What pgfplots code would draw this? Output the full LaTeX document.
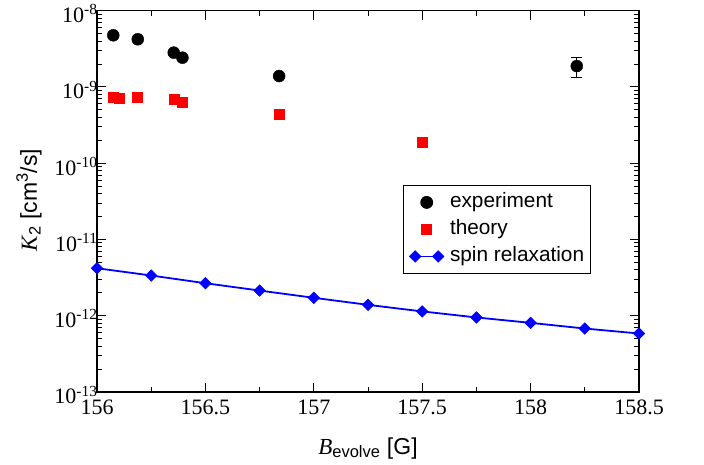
\documentclass[border=0pt]{standalone}
\usepackage{pgfplots}
\pgfplotsset{compat=1.18}
\usepackage{fontspec}
\setmainfont{Liberation Sans}
\newfontfamily\serif{Liberation Serif}

\newcommand{\tickfont}{\fontsize{22}{26}\selectfont}
\newcommand{\legfont}{\fontsize{20.8}{25}\selectfont}
\newcommand{\labfont}{\fontsize{23}{27}\selectfont}
\newcommand{\subfont}{\fontsize{16.5}{19}\selectfont}

% legend pictures: a single centred mark, or a short line with marks at both ends
\pgfplotsset{
  markleg/.style={legend image code/.code={\draw[##1] plot coordinates {(11.5pt,0pt)};}},
  lineleg/.style={legend image code/.code={\draw[##1] plot coordinates {(0pt,0pt) (23pt,0pt)};}},
}

\begin{document}
\begin{tikzpicture}[x=1pt,y=1pt]
\path[use as bounding box] (0,0) rectangle (704,464);
\begin{axis}[
  at={(97pt,72pt)}, anchor=south west,
  scale only axis, width=542pt, height=381.3pt,
  xmin=156, xmax=158.5, ymin=1e-13, ymax=1e-8, ymode=log,
  xtick={156,156.5,157,157.5,158,158.5},
  minor x tick num=1,
  ytick={1e-13,1e-12,1e-11,1e-10,1e-9,1e-8},
  tick align=inside,
  major tick length=9pt, minor tick length=5pt,
  every tick/.style={black, line width=1pt},
  axis line style={line width=1.2pt},
  /pgf/number format/assume math mode=true,
  xticklabel style={font=\serif\tickfont, yshift=-4pt},
  yticklabel style={font=\serif\tickfont, xshift=4pt, yshift=-3pt},
  yticklabel={\pgfmathtruncatemacro{\e}{round(\tick/ln(10))}10\textsuperscript{\e}},
  legend cell align=left,
  legend style={at={(0.5646,0.5429)}, anchor=north west, draw=black,
    line width=0.8pt, fill=white, inner xsep=6pt, inner ysep=7pt,
    row sep=7pt, column sep=6pt, font=\legfont,
    nodes={inner sep=0pt, text height=15.5pt, text depth=4.5pt}},
]

% measured two-body loss rate
\addplot[only marks, mark=*, mark size=6pt, black, markleg]
  coordinates {
  (156.075,4.76e-9) (156.188,4.22e-9) (156.354,2.82e-9)
  (156.394,2.42e-9) (156.84,1.39e-9)
};
\addlegendentry{experiment}

% point with its error bar
\addplot[forget plot, only marks, mark=*, mark size=6pt, black,
  error bars/.cd, y dir=both, y explicit,
  error bar style={line width=1pt, black},
  error mark options={rotate=90, line width=1pt, mark size=5.5pt, black}]
  coordinates {(158.213,1.88e-9) += (0,0.57e-9) -= (0,0.54e-9)};

% coupled-channel theory
\addplot[only marks, mark=square*, mark size=5pt, red,
  mark options={draw=red, fill=red}, markleg]
  coordinates {
  (156.075,7.40e-10) (156.101,7.18e-10) (156.186,7.33e-10)
  (156.354,6.96e-10) (156.394,6.22e-10) (156.84,4.39e-10)
  (157.499,1.90e-10)
};
\addlegendentry{theory}

% spin relaxation contribution
\addplot[blue, line width=1.8pt, mark=square*,
  mark options={rotate=45, solid, line width=0.5pt, fill=blue},
  mark size=4.1pt, lineleg]
  coordinates {
  (156.00,4.20e-12) (156.25,3.37e-12) (156.50,2.67e-12)
  (156.75,2.14e-12) (157.00,1.72e-12) (157.25,1.39e-12)
  (157.50,1.14e-12) (157.75,9.50e-13) (158.00,8.07e-13)
  (158.25,6.80e-13) (158.50,5.85e-13)
};
\addlegendentry{spin relaxation}
\end{axis}

\node[rotate=90, font=\labfont] at (29,264)
  {{\serif\itshape K}\textsubscript{\subfont 2} [cm\textsuperscript{\subfont 3}/s]};
\node[anchor=base, font=\labfont] at (368,10)
  {{\serif\itshape B}\textsubscript{\subfont evolve} [G]};
\end{tikzpicture}
\end{document}
